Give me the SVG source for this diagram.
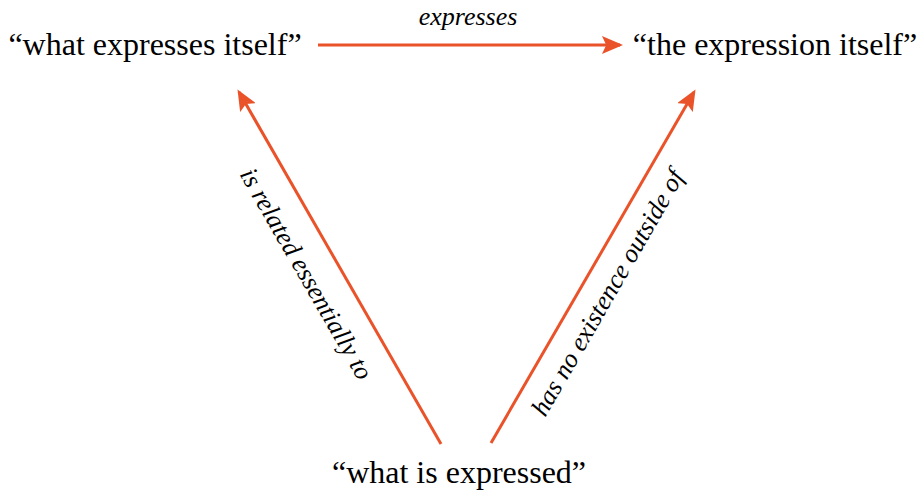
<svg xmlns="http://www.w3.org/2000/svg" width="922" height="493" viewBox="0 0 922 493">
<style>
.node{font-family:"Liberation Serif","Times New Roman",serif;font-size:32px;fill:#000}
.lab{font-family:"Liberation Serif","Times New Roman",serif;font-size:26px;font-style:italic;fill:#000}
.edge{stroke:#EA5329;stroke-width:3;fill:none}
</style>
<defs>
<marker id="ah" markerWidth="7" markerHeight="6" refX="6" refY="3" orient="auto" markerUnits="strokeWidth">
<path d="M0,0 L7,3 L0,6 L1.4,3 Z" fill="#EA5329"/>
</marker>
</defs>
<g id="n1"><text class="node" x="155" y="55" text-anchor="middle">“what expresses itself”</text></g>
<g id="n2"><text class="node" x="775" y="55" text-anchor="middle">“the expression itself”</text></g>
<g id="n3"><text class="node" x="459" y="483" text-anchor="middle">“what is expressed”</text></g>
<g id="edges">
<line class="edge" x1="318" y1="45" x2="620" y2="45" marker-end="url(#ah)"/>
<line class="edge" x1="441" y1="444" x2="239" y2="92" marker-end="url(#ah)"/>
<line class="edge" x1="491" y1="443" x2="694" y2="92" marker-end="url(#ah)"/>
</g>
<text class="lab" x="468" y="25" text-anchor="middle">expresses</text>
<g id="label-left"><text class="lab" transform="translate(299,278) rotate(60)" text-anchor="middle">is related essentially to</text></g>
<g id="label-right"><text class="lab" transform="translate(615,297) rotate(-60)" text-anchor="middle">has no existence outside of</text></g>
</svg>
